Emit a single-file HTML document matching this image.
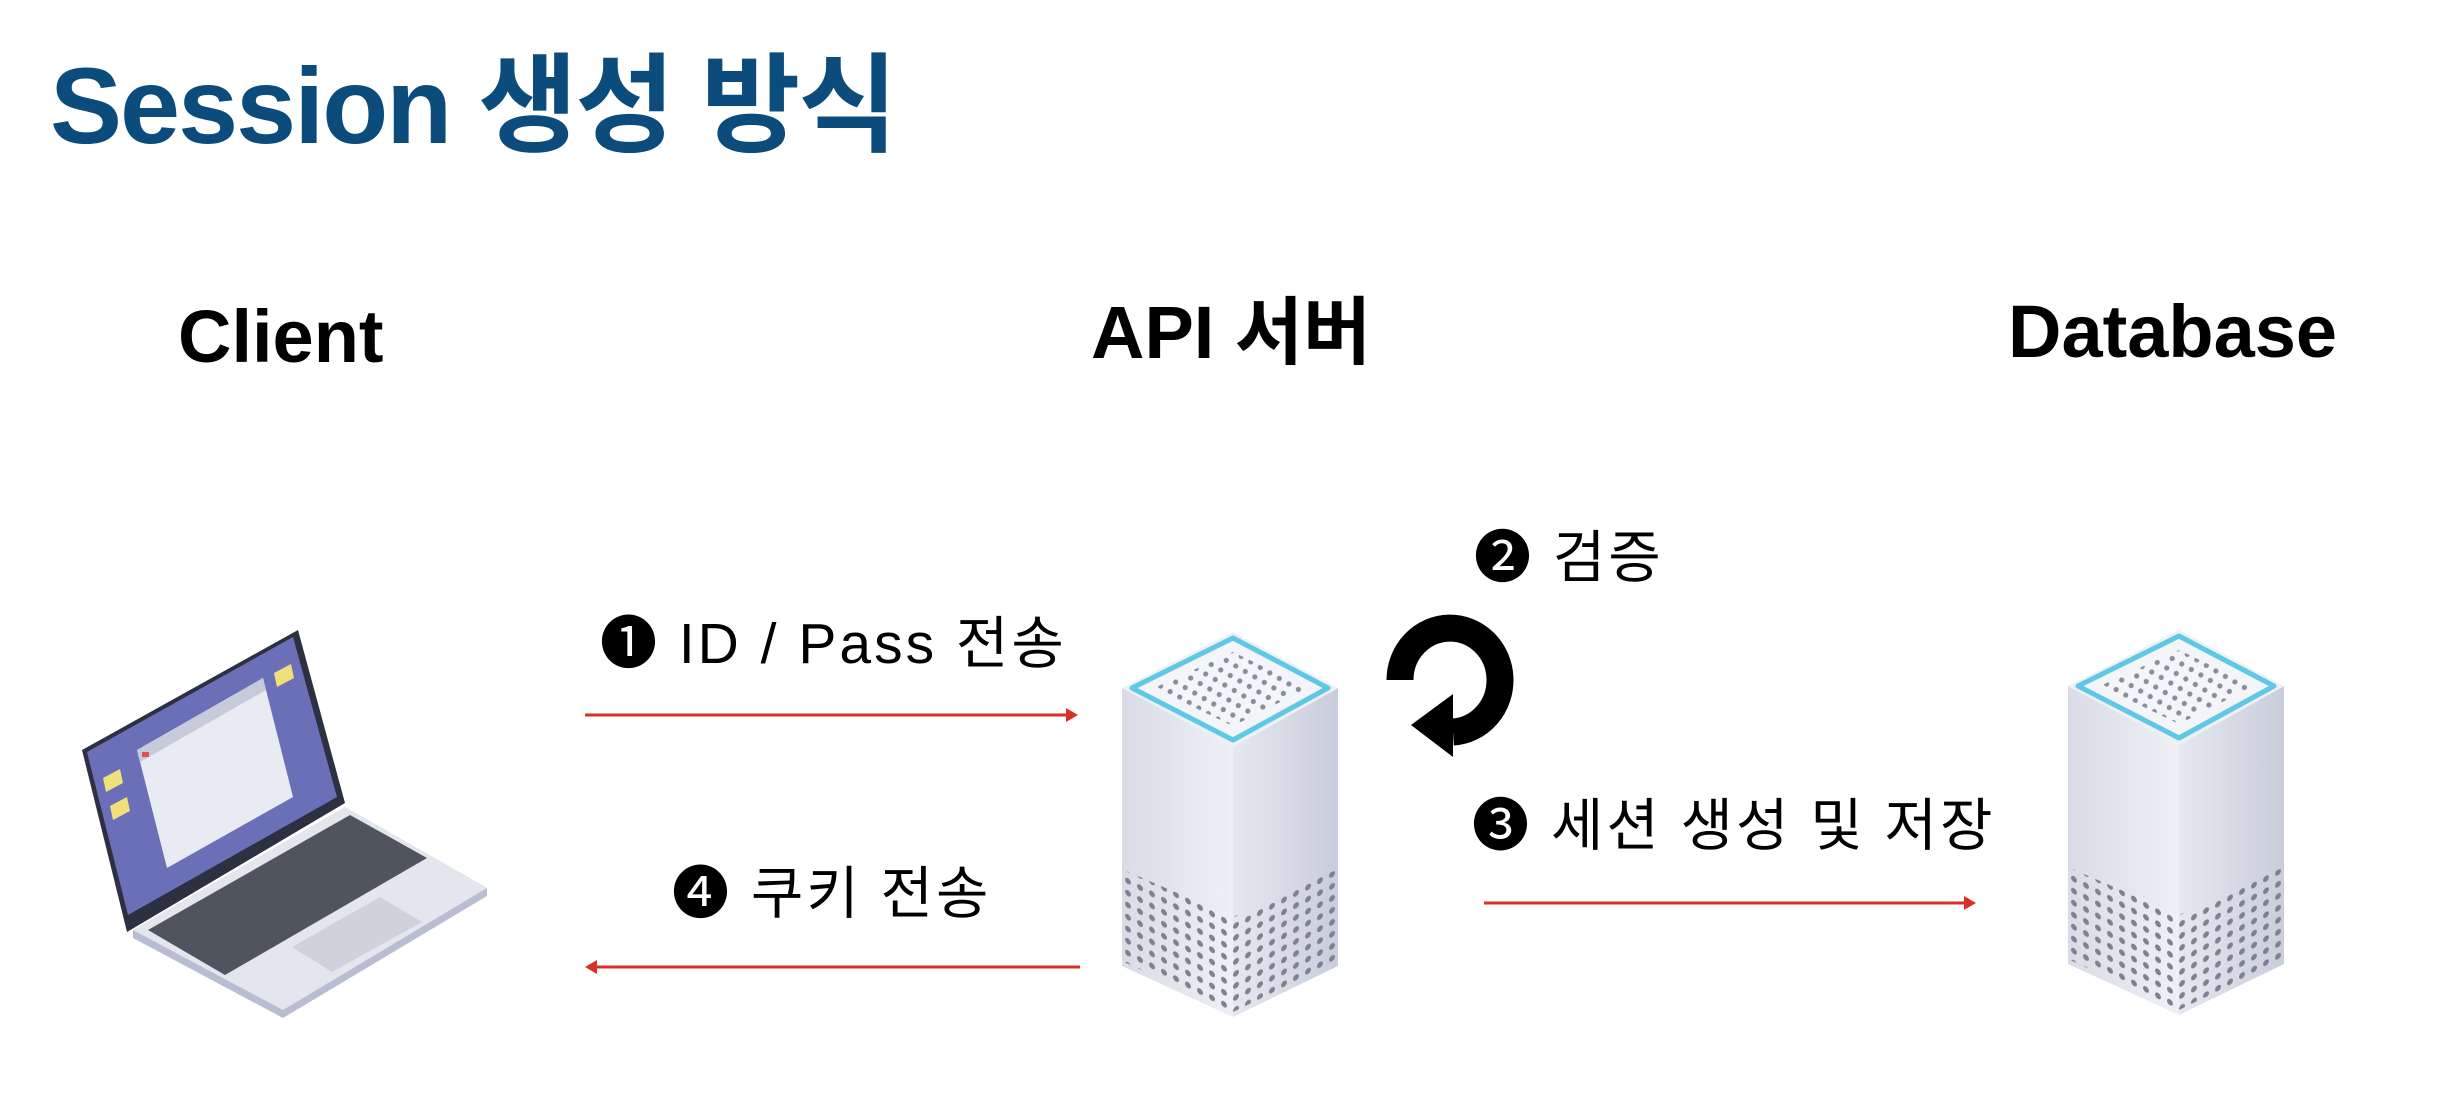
<!DOCTYPE html>
<html><head><meta charset="utf-8"><style>
html,body{margin:0;padding:0;background:#fff;}
body{width:2454px;height:1116px;position:relative;overflow:hidden;font-family:"Liberation Sans","Noto Sans CJK KR",sans-serif;}
.t{position:absolute;white-space:nowrap;line-height:1;}
.l{letter-spacing:3px;}
</style></head><body>
<svg width="2454" height="1116" style="position:absolute;left:0;top:0">
<defs>
<pattern id="dots" width="12" height="12" patternUnits="userSpaceOnUse" patternTransform="skewY(-28)">
<circle cx="6" cy="6" r="3" fill="#7d8190"/></pattern>
<pattern id="dots2" width="12" height="12" patternUnits="userSpaceOnUse" patternTransform="skewY(28)">
<circle cx="6" cy="6" r="3" fill="#7d8190"/></pattern>
<pattern id="tdots" width="11" height="11" patternUnits="userSpaceOnUse" patternTransform="rotate(30)">
<circle cx="5.5" cy="5.5" r="2.6" fill="#8a8e9a"/></pattern>
<linearGradient id="lf" x1="0" x2="1"><stop offset="0" stop-color="#d9dce6"/><stop offset="1" stop-color="#eef0f5"/></linearGradient>
<linearGradient id="rf" x1="0" x2="1"><stop offset="0" stop-color="#e6e8f0"/><stop offset="1" stop-color="#c9cddb"/></linearGradient>
<g id="srv">
<path d="M0,56 L111,115 L111,385 L0,334 Z" fill="url(#lf)"/>
<path d="M111,115 L216,56 L216,334 L111,385 Z" fill="url(#rf)"/>
<path d="M2,238 L111,285 L111,380 L2,330 Z" fill="url(#dots2)"/>
<path d="M111,285 L214,238 L214,330 L111,380 Z" fill="url(#dots)"/>
<path d="M111,0 L216,56 L111,115 L0,56 Z" fill="#eef0f5"/>
<path d="M111,6 L206,56 L111,108 L10,56 Z" fill="#f4f5f8" stroke="#5ec8e6" stroke-width="5" stroke-linejoin="round"/>
<path d="M111,20 L186,56 L111,94 L32,56 Z" fill="url(#tdots)"/>
</g>
</defs>
<line x1="585" y1="715" x2="1068" y2="715" stroke="#d93025" stroke-width="3"/>
<polygon points="1078,715 1066,708 1066,722" fill="#d93025"/>
<line x1="595" y1="967" x2="1080" y2="967" stroke="#d93025" stroke-width="3"/>
<polygon points="585,967 597,960 597,974" fill="#d93025"/>
<line x1="1484" y1="903" x2="1966" y2="903" stroke="#d93025" stroke-width="3"/>
<polygon points="1976,903 1964,896 1964,910" fill="#d93025"/>
<use href="#srv" x="1122" y="632"/>
<use href="#srv" x="2068" y="630"/>
<path d="M1400,680 A50,52 0 1 1 1453,732" fill="none" stroke="#000" stroke-width="27"/>
<polygon points="1453,694 1453,757 1411,725" fill="#000"/>
<polygon points="133,930 345,807 487,888 487,896 283,1018 133,938" fill="#b9bdd2"/>
<polygon points="133,930 345,807 487,888 283,1010" fill="#e4e6ee"/>
<polygon points="148,930 350,815 427,858 225,975" fill="#50545e"/>
<polygon points="292,947 380,897 422,922 332,972" fill="#cfd2dc"/>
<polygon points="82,750 298,630 345,803 127,932" fill="#2d3040"/>
<polygon points="87,752 293,637 337,797 128,915" fill="#6a6fb8"/>
<polygon points="137,750 263,678 293,797 167,868" fill="#e9ebf2"/>
<polygon points="137,750 263,678 266,690 140,762" fill="#c7cad8"/>
<rect x="142" y="752" width="7" height="5" fill="#e05050"/>
<polygon points="103,778 120,769 123,783 106,792" fill="#f1e07a"/>
<polygon points="110,806 127,797 130,811 113,820" fill="#f1e07a"/>
<polygon points="274,673 291,664 294,678 277,687" fill="#f1e07a"/>
</svg>
<div class="t" style="left:50px;top:52px;font-size:108px;font-weight:bold;color:#0b4c7c;letter-spacing:-2px">Session 생성 방식</div>
<div class="t" style="left:178px;top:300px;font-size:74px;font-weight:bold;color:#000">Client</div>
<div class="t" style="left:1091px;top:296px;font-size:74px;font-weight:bold;color:#000">API 서버</div>
<div class="t" style="left:2008px;top:295px;font-size:74px;font-weight:bold;color:#000">Database</div>
<div class="t l" style="left:600px;top:616px;font-size:57px;color:#000">❶ ID / Pass 전송</div>
<div class="t l" style="left:672px;top:866px;font-size:57px;color:#000">❹ 쿠키 전송</div>
<div class="t l" style="left:1474px;top:530px;font-size:57px;color:#000">❷ 검증</div>
<div class="t l" style="left:1472px;top:798px;font-size:57px;color:#000">❸ 세션 생성 및 저장</div>
</body></html>
